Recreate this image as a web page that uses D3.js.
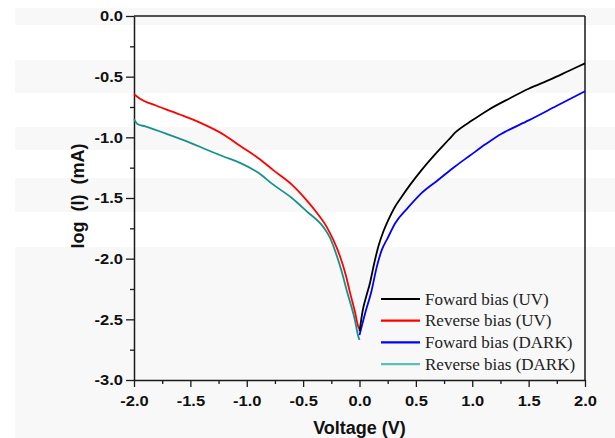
<!DOCTYPE html>
<html>
<head>
<meta charset="utf-8">
<script src="https://cdn.jsdelivr.net/npm/d3@7"></script>
<style>
  body { margin: 0; background: #fff; }
  svg { display: block; }
</style>
</head>
<body>
<svg id="chart" width="615" height="438"></svg>
<script>
// Foward bias (UV)
var voltForwardUV = [0.00, 0.03, 0.06, 0.093, 0.13, 0.167, 0.21, 0.256, 0.31, 0.374, 0.45, 0.55, 0.67, 0.79, 0.85, 1.00, 1.15, 1.33, 1.50, 1.70, 1.85, 2.00];
var logForwardUV  = [-2.60, -2.42, -2.31, -2.20, -2.04, -1.90, -1.78, -1.68, -1.58, -1.49, -1.39, -1.27, -1.14, -1.02, -0.96, -0.86, -0.77, -0.68, -0.60, -0.52, -0.455, -0.39];

// Reverse bias (UV)
var voltReverseUV = [-2.00, -1.95, -1.80, -1.60, -1.40, -1.20, -1.06, -0.90, -0.765, -0.60, -0.468, -0.38, -0.29, -0.23, -0.173, -0.12, -0.084, -0.04, -0.011, 0.00];
var logReverseUV  = [-0.645, -0.68, -0.74, -0.81, -0.885, -0.98, -1.07, -1.17, -1.27, -1.39, -1.52, -1.62, -1.74, -1.85, -1.98, -2.14, -2.28, -2.44, -2.56, -2.58];

// Foward bias (DARK)
var voltForwardDark = [0.00, 0.05, 0.108, 0.15, 0.197, 0.25, 0.315, 0.43, 0.55, 0.70, 0.847, 0.98, 1.113, 1.26, 1.30, 1.50, 1.75, 2.00];
var logForwardDark  = [-2.63, -2.45, -2.26, -2.08, -1.93, -1.83, -1.71, -1.58, -1.46, -1.35, -1.24, -1.15, -1.06, -0.97, -0.95, -0.86, -0.74, -0.62];

// Reverse bias (DARK)
var voltReverseDark = [-2.00, -1.97, -1.90, -1.70, -1.50, -1.36, -1.20, -1.06, -0.90, -0.765, -0.60, -0.468, -0.32, -0.26, -0.20, -0.16, -0.114, -0.04, -0.011, 0.00];
var logReverseDark  = [-0.85, -0.89, -0.91, -0.975, -1.045, -1.10, -1.16, -1.21, -1.29, -1.39, -1.50, -1.61, -1.74, -1.83, -1.98, -2.10, -2.26, -2.51, -2.64, -2.67];

var seriesNames  = ["Foward bias (UV)", "Reverse bias (UV)", "Foward bias (DARK)", "Reverse bias (DARK)"];
var seriesColors = ["#000000", "#ff0000", "#0000ff", "#17928a"];

var xTicks = [-2.0, -1.5, -1.0, -0.5, 0.0, 0.5, 1.0, 1.5, 2.0];
var yTicks = [0.0, -0.5, -1.0, -1.5, -2.0, -2.5, -3.0];

var width = 615, height = 438;
var margin = { top: 16, right: 30, bottom: 58, left: 134 };
var w = width - margin.left - margin.right;
var h = height - margin.top - margin.bottom;

var svg = d3.select("#chart");

// faint scan stripes seen in the source picture
var stripes = [[8, 25], [60, 93], [127, 150], [178, 212], [247, 438]];
svg.selectAll("rect.stripe")
    .data(stripes)
    .enter()
    .append("rect")
    .attr("class", "stripe")
    .attr("x", 15)
    .attr("y", function (d) { return d[0]; })
    .attr("width", 600)
    .attr("height", function (d) { return d[1] - d[0]; })
    .attr("fill", "#f8f8f8");

var g = svg.append("g")
    .attr("transform", "translate(" + margin.left + "," + margin.top + ")");

var x = d3.scaleLinear().domain([-2, 2]).range([0, w]);
var y = d3.scaleLinear().domain([-3, 0]).range([h, 0]);

var axisColor = "#1a1a1a";
var stretch = 1.18; // tick labels look wider than normal Arial

// plain hyphen instead of the unicode minus d3 uses
var fmt = function (d) { return d3.format(".1f")(d).replace("\u2212", "-"); };

// minor ticks
var xMinor = d3.range(-1.75, 2, 0.5);
var yMinor = d3.range(-2.75, 0, 0.5);

g.append("g")
    .attr("transform", "translate(0," + h + ")")
    .call(d3.axisBottom(x).tickValues(xMinor).tickSize(4).tickFormat(""))
    .call(function (s) { s.select(".domain").remove(); });

g.append("g")
    .call(d3.axisLeft(y).tickValues(yMinor).tickSize(4).tickFormat(""))
    .call(function (s) { s.select(".domain").remove(); });

// major axes
var xAxis = g.append("g")
    .attr("transform", "translate(0," + h + ")")
    .call(d3.axisBottom(x).tickValues(xTicks).tickSize(7).tickSizeOuter(0).tickFormat(fmt));

var yAxis = g.append("g")
    .call(d3.axisLeft(y).tickValues(yTicks).tickSize(8).tickSizeOuter(0).tickFormat(fmt));

[xAxis, yAxis].forEach(function (a) {
    a.selectAll("text")
        .style("font-family", "'Liberation Sans', Arial, sans-serif")
        .style("font-size", "14px")
        .style("font-weight", "bold")
        .attr("fill", "#111");
});

xAxis.selectAll("text")
    .attr("dy", null)
    .attr("y", 26)
    .attr("transform", "scale(" + stretch + ",1)");

yAxis.selectAll("text")
    .attr("x", -11 / stretch)
    .attr("dy", "0.35em")
    .attr("transform", "scale(" + stretch + ",1)");

g.selectAll(".tick line").attr("stroke", axisColor).attr("stroke-width", 1.3);
g.selectAll(".domain").attr("stroke", axisColor).attr("stroke-width", 1.5);

// top and right border
g.append("line")
    .attr("x1", 0).attr("x2", w).attr("y1", 0).attr("y2", 0)
    .attr("stroke", axisColor).attr("stroke-width", 1.5);
g.append("line")
    .attr("x1", w).attr("x2", w).attr("y1", 0).attr("y2", h)
    .attr("stroke", axisColor).attr("stroke-width", 1.5);

// curves
var seriesData = [
    d3.zip(voltForwardUV, logForwardUV),
    d3.zip(voltReverseUV, logReverseUV),
    d3.zip(voltForwardDark, logForwardDark),
    d3.zip(voltReverseDark, logReverseDark)
];

var line = d3.line()
    .x(function (d) { return x(d[0]); })
    .y(function (d) { return y(d[1]); })
    .curve(d3.curveMonotoneX);

// draw dark first so UV curves sit on top like the source
[3, 2, 1, 0].forEach(function (i) {
    g.append("path")
        .datum(seriesData[i])
        .attr("fill", "none")
        .attr("stroke", seriesColors[i])
        .attr("stroke-width", 1.8)
        .attr("stroke-linejoin", "round")
        .attr("d", line);
});

// axis titles
svg.append("text")
    .attr("x", margin.left + w / 2)
    .attr("y", 434)
    .attr("text-anchor", "middle")
    .style("font-family", "'Liberation Sans', Arial, sans-serif")
    .style("font-size", "18px")
    .style("font-weight", "bold")
    .attr("fill", "#111")
    .text("Voltage (V)");

svg.append("text")
    .attr("transform", "translate(84,196) rotate(-90)")
    .attr("text-anchor", "middle")
    .style("font-family", "'Liberation Sans', Arial, sans-serif")
    .style("font-size", "18px")
    .style("font-weight", "bold")
    .style("word-spacing", "5px")
    .attr("fill", "#111")
    .text("log (I) (mA)");

// legend
var legend = svg.append("g").attr("transform", "translate(381,299)");
var legendItem = legend.selectAll("g")
    .data(seriesNames)
    .enter()
    .append("g")
    .attr("transform", function (d, i) { return "translate(0," + (i * 21.7) + ")"; });

legendItem.append("line")
    .attr("x1", 0).attr("x2", 39)
    .attr("stroke", function (d, i) { return i === 3 ? "#5fbdb8" : seriesColors[i]; })
    .attr("stroke-width", 2.2);

legendItem.append("text")
    .attr("x", 44)
    .attr("dy", "0.33em")
    .style("font-family", "'Liberation Serif', 'Times New Roman', serif")
    .style("font-size", "17px")
    .attr("fill", "#222")
    .text(function (d) { return d; });
</script>
</body>
</html>
